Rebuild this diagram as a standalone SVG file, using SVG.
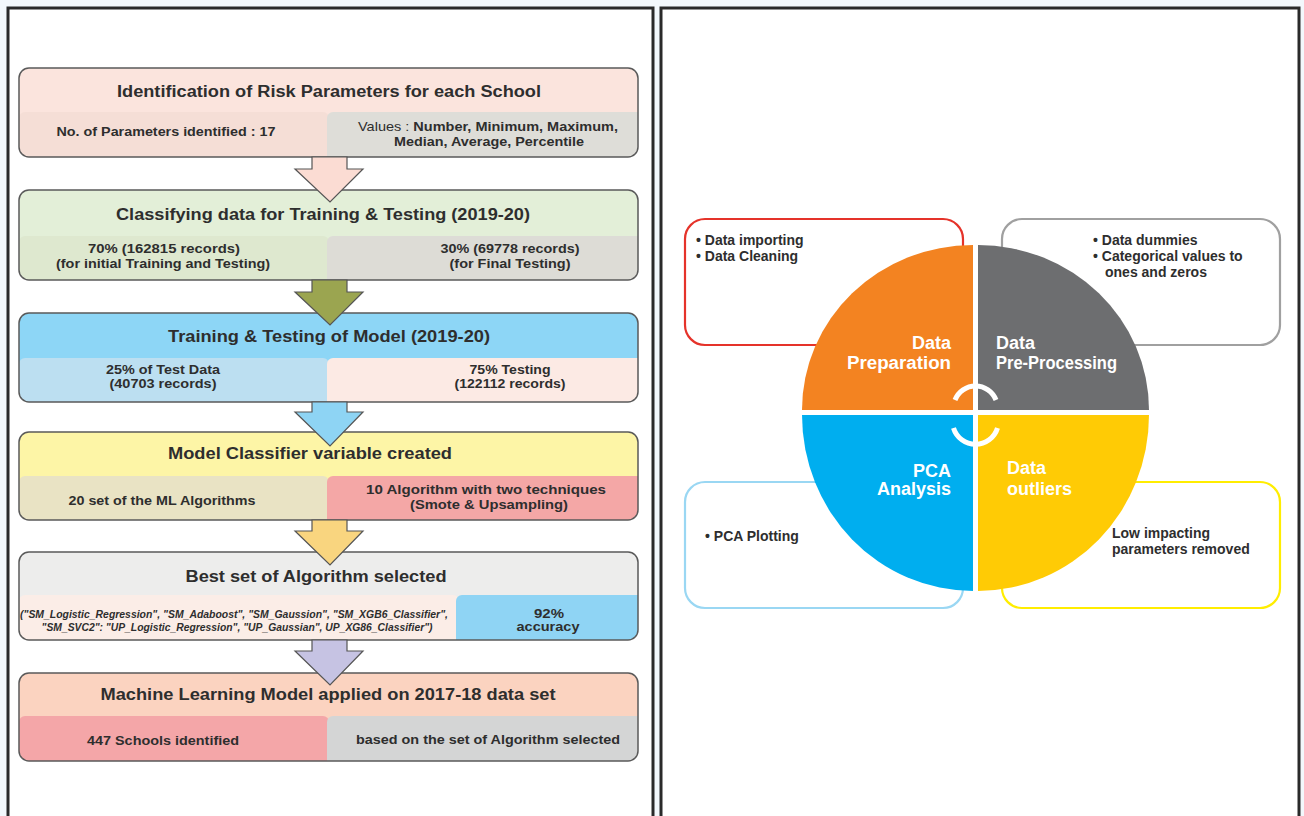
<svg xmlns="http://www.w3.org/2000/svg" width="1304" height="816" viewBox="0 0 1304 816">
<style>
.panel{fill:#fff;stroke:#2a2a2a;stroke-width:3}
.bx{fill:none;stroke:#5a5a5a;stroke-width:1.5}
.t{font-family:"Liberation Sans",Arial,sans-serif;font-weight:bold;fill:#2e2e2e}
.h{font-size:16px}
.b{font-size:13px}
.i{font-size:11.5px;font-style:italic}
.w{font-family:"Liberation Sans",Arial,sans-serif;font-weight:bold;fill:#fff;font-size:18px}
.r{font-family:"Liberation Sans",Arial,sans-serif;font-weight:bold;fill:#2e2e2e;font-size:14px}
.arr{stroke:#555;stroke-width:1.2}
.tb{fill:#fff;stroke-width:2.2}
.arc{fill:none;stroke:#fff;stroke-width:5}
</style>
<defs>
<clipPath id="c1"><rect x="19" y="68" width="619" height="89" rx="10"/></clipPath>
<clipPath id="c2"><rect x="19" y="190" width="619" height="90" rx="10"/></clipPath>
<clipPath id="c3"><rect x="19" y="313" width="619" height="89" rx="10"/></clipPath>
<clipPath id="c4"><rect x="19" y="432" width="619" height="88" rx="10"/></clipPath>
<clipPath id="c5"><rect x="19" y="552" width="619" height="88" rx="10"/></clipPath>
<clipPath id="c6"><rect x="19" y="673" width="619" height="88" rx="10"/></clipPath>
</defs>
<rect x="0" y="0" width="1304" height="816" fill="#f3f8fc"/>
<rect class="panel" x="8" y="8" width="645" height="830"/>
<rect class="panel" x="661" y="8" width="638" height="830"/>

<g id="box1">
<g clip-path="url(#c1)">
<rect x="19" y="68" width="619" height="89" fill="#fbe4dd"/>
<rect x="19" y="112" width="310" height="60" rx="6" fill="#f5ded6"/>
<rect x="327" y="112" width="320" height="60" rx="6" fill="#deddd8"/>
</g>
<rect class="bx" x="19" y="68" width="619" height="89" rx="10"/>
<text class="t h" x="329" y="97" text-anchor="middle" textLength="424" lengthAdjust="spacingAndGlyphs">Identification of Risk Parameters for each School</text>
<text class="t b" x="166" y="136" text-anchor="middle" textLength="219" lengthAdjust="spacingAndGlyphs">No. of Parameters identified : 17</text>
<text class="t b" x="488" y="131" text-anchor="middle" textLength="260" lengthAdjust="spacingAndGlyphs"><tspan font-weight="normal">Values : </tspan>Number, Minimum, Maximum,</text>
<text class="t b" x="489" y="146" text-anchor="middle" textLength="190" lengthAdjust="spacingAndGlyphs">Median, Average, Percentile</text>
</g>

<g id="box2">
<g clip-path="url(#c2)">
<rect x="19" y="190" width="619" height="90" fill="#e3efd8"/>
<rect x="19" y="236" width="310" height="60" rx="6" fill="#dee8cf"/>
<rect x="327" y="236" width="320" height="60" rx="6" fill="#dddcd6"/>
</g>
<rect class="bx" x="19" y="190" width="619" height="90" rx="10"/>
<text class="t h" x="323" y="220" text-anchor="middle" textLength="414" lengthAdjust="spacingAndGlyphs">Classifying data for Training &amp; Testing (2019-20)</text>
<text class="t b" x="164" y="253" text-anchor="middle" textLength="152" lengthAdjust="spacingAndGlyphs">70% (162815 records)</text>
<text class="t b" x="163" y="268" text-anchor="middle" textLength="214" lengthAdjust="spacingAndGlyphs">(for initial Training and Testing)</text>
<text class="t b" x="510" y="253" text-anchor="middle" textLength="139" lengthAdjust="spacingAndGlyphs">30% (69778 records)</text>
<text class="t b" x="510" y="268" text-anchor="middle" textLength="121" lengthAdjust="spacingAndGlyphs">(for Final Testing)</text>
</g>

<g id="box3">
<g clip-path="url(#c3)">
<rect x="19" y="313" width="619" height="89" fill="#8dd6f6"/>
<rect x="19" y="358" width="310" height="60" rx="6" fill="#bcdff1"/>
<rect x="327" y="358" width="320" height="60" rx="6" fill="#fceae4"/>
</g>
<rect class="bx" x="19" y="313" width="619" height="89" rx="10"/>
<text class="t h" x="329" y="342" text-anchor="middle" textLength="322" lengthAdjust="spacingAndGlyphs">Training &amp; Testing of Model (2019-20)</text>
<text class="t b" x="163" y="374" text-anchor="middle" textLength="114" lengthAdjust="spacingAndGlyphs">25% of Test Data</text>
<text class="t b" x="163" y="388" text-anchor="middle" textLength="107" lengthAdjust="spacingAndGlyphs">(40703 records)</text>
<text class="t b" x="510" y="374" text-anchor="middle" textLength="81" lengthAdjust="spacingAndGlyphs">75% Testing</text>
<text class="t b" x="510" y="388" text-anchor="middle" textLength="111" lengthAdjust="spacingAndGlyphs">(122112 records)</text>
</g>

<g id="box4">
<g clip-path="url(#c4)">
<rect x="19" y="432" width="619" height="88" fill="#fdf5a6"/>
<rect x="19" y="476" width="310" height="60" rx="6" fill="#e9e3c4"/>
<rect x="327" y="476" width="320" height="60" rx="6" fill="#f4a7a6"/>
</g>
<rect class="bx" x="19" y="432" width="619" height="88" rx="10"/>
<text class="t h" x="310" y="459" text-anchor="middle" textLength="284" lengthAdjust="spacingAndGlyphs">Model Classifier variable created</text>
<text class="t b" x="162" y="505" text-anchor="middle" textLength="187" lengthAdjust="spacingAndGlyphs">20 set of the ML Algorithms</text>
<text class="t b" x="486" y="494" text-anchor="middle" textLength="240" lengthAdjust="spacingAndGlyphs">10 Algorithm with two techniques</text>
<text class="t b" x="489" y="509" text-anchor="middle" textLength="158" lengthAdjust="spacingAndGlyphs">(Smote &amp; Upsampling)</text>
</g>

<g id="box5">
<g clip-path="url(#c5)">
<rect x="19" y="552" width="619" height="88" fill="#ededec"/>
<rect x="19" y="595" width="440" height="60" rx="6" fill="#fbede7"/>
<rect x="456" y="595" width="200" height="60" rx="6" fill="#8fd4f4"/>
</g>
<rect class="bx" x="19" y="552" width="619" height="88" rx="10"/>
<text class="t h" x="316" y="582" text-anchor="middle" textLength="261" lengthAdjust="spacingAndGlyphs">Best set of Algorithm selected</text>
<text class="t i" x="234" y="618" text-anchor="middle" textLength="428" lengthAdjust="spacingAndGlyphs">("SM_Logistic_Regression", "SM_Adaboost", "SM_Gaussion", "SM_XGB6_Classifier",</text>
<text class="t i" x="237" y="631" text-anchor="middle" textLength="391" lengthAdjust="spacingAndGlyphs">"SM_SVC2": "UP_Logistic_Regression", "UP_Gaussian", UP_XG86_Classifier")</text>
<text class="t b" x="549" y="618" text-anchor="middle" textLength="30" lengthAdjust="spacingAndGlyphs">92%</text>
<text class="t b" x="548" y="631" text-anchor="middle" textLength="63" lengthAdjust="spacingAndGlyphs">accuracy</text>
</g>

<g id="box6">
<g clip-path="url(#c6)">
<rect x="19" y="673" width="619" height="88" fill="#fbd3c0"/>
<rect x="19" y="716" width="310" height="60" rx="6" fill="#f4a6a8"/>
<rect x="327" y="716" width="320" height="60" rx="6" fill="#d4d5d5"/>
</g>
<rect class="bx" x="19" y="673" width="619" height="88" rx="10"/>
<text class="t h" x="328" y="700" text-anchor="middle" textLength="455" lengthAdjust="spacingAndGlyphs">Machine Learning Model applied on 2017-18 data set</text>
<text class="t b" x="163" y="745" text-anchor="middle" textLength="152" lengthAdjust="spacingAndGlyphs">447 Schools identified</text>
<text class="t b" x="488" y="744" text-anchor="middle" textLength="264" lengthAdjust="spacingAndGlyphs">based on the set of Algorithm selected</text>
</g>

<g id="connectors">
<polygon class="arr" fill="#fbdcd3" points="312,157 347,157 347,169 363,169 330,202 295,169 312,169"/>
<polygon class="arr" fill="#9ba550" points="312,280 347,280 347,292 363,292 330,325 295,292 312,292"/>
<polygon class="arr" fill="#8ed4f4" points="312,402 347,402 347,412 363,412 330,446 295,412 312,412"/>
<polygon class="arr" fill="#f9d57f" points="312,520 347,520 347,531 363,531 330,565 295,531 312,531"/>
<polygon class="arr" fill="#c6c3e3" points="312,640 347,640 347,651 363,651 330,685 295,651 312,651"/>
</g>

<g id="box-preparation">
<rect class="tb" x="685" y="219" width="278" height="126" rx="20" stroke="#e5332a"/>
<text class="r" x="696" y="245">• Data importing</text>
<text class="r" x="696" y="261">• Data Cleaning</text>
</g>
<g id="box-preprocessing">
<rect class="tb" x="1002" y="219" width="278" height="126" rx="20" stroke="#a0a0a0"/>
<text class="r" x="1093" y="245">• Data dummies</text>
<text class="r" x="1093" y="261">• Categorical values to</text>
<text class="r" x="1105" y="277">ones and zeros</text>
</g>
<g id="box-pca">
<rect class="tb" x="685" y="482" width="278" height="126" rx="20" stroke="#9ad7f3"/>
<text class="r" x="705" y="541">• PCA Plotting</text>
</g>
<g id="box-outliers">
<rect class="tb" x="1002" y="482" width="278" height="126" rx="20" stroke="#ffed00"/>
<text class="r" x="1112" y="538">Low impacting</text>
<text class="r" x="1112" y="554">parameters removed</text>
</g>

<g id="quad-preparation">
<path d="M973,410 L802,410 A171,165 0 0 1 973,245 Z" fill="#f38321"/>
<text class="w" x="951" y="349" text-anchor="end">Data</text>
<text class="w" x="951" y="369" text-anchor="end" textLength="104" lengthAdjust="spacingAndGlyphs">Preparation</text>
</g>
<g id="quad-preprocessing">
<path d="M978,410 L978,245 A171,165 0 0 1 1149,410 Z" fill="#6d6e70"/>
<text class="w" x="996" y="349">Data</text>
<text class="w" x="996" y="369" textLength="121" lengthAdjust="spacingAndGlyphs">Pre-Processing</text>
</g>
<g id="quad-pca">
<path d="M973,415 L973,591 A171,176 0 0 1 802,415 Z" fill="#00aeef"/>
<text class="w" x="951" y="477" text-anchor="end">PCA</text>
<text class="w" x="951" y="495" text-anchor="end">Analysis</text>
</g>
<g id="quad-outliers">
<path d="M978,415 L1149,415 A171,176 0 0 1 978,591 Z" fill="#ffcb05"/>
<text class="w" x="1007" y="474">Data</text>
<text class="w" x="1007" y="495">outliers</text>
</g>
<path class="arc" d="M955,400 A22,22 0 0 1 996,400"/>
<path class="arc" d="M953.5,428 A23,23 0 0 0 997.5,428"/>
</svg>
